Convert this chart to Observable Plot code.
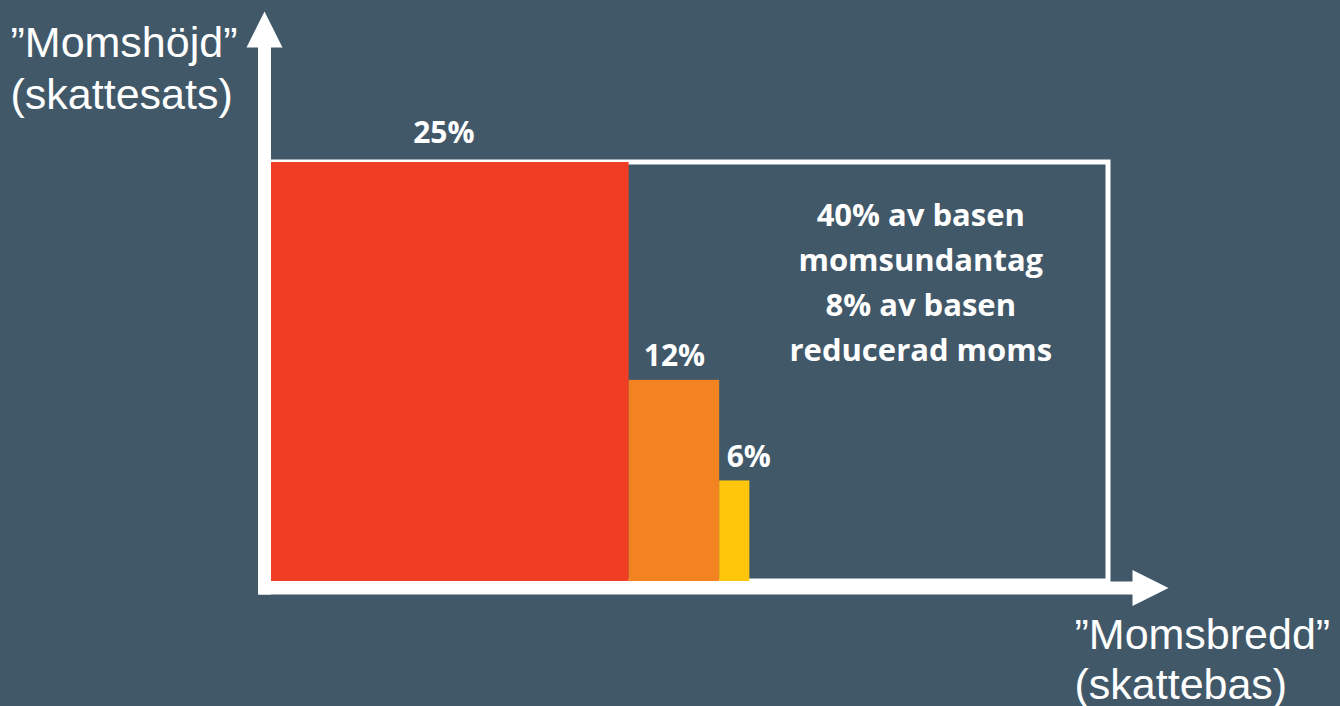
<!DOCTYPE html>
<html>
<head>
<meta charset="utf-8">
<script src="https://cdn.jsdelivr.net/npm/d3@7"></script>
<script src="https://cdn.jsdelivr.net/npm/@observablehq/plot@0.6"></script>
<style>
  html, body { margin: 0; padding: 0; background: #415869; }
  #chart { width: 1340px; height: 706px; }
</style>
</head>
<body>
<div id="chart"></div>
<script>
// ---- data ----
const categories = ["Normalmoms", "Reducerad moms 12%", "Reducerad moms 6%"];
const rates = [25, 12, 6];                 // "Momshöjd" (skattesats, %)
const baseShares = [42.8, 10.8, 3.6];      // "Momsbredd" (andel av skattebasen, %)
const rateLabels = ["25%", "12%", "6%"];
const barColors = ["#ef3e24", "#f38221", "#ffc60b"];
const noteLines = ["40% av basen", "momsundantag", "8% av basen", "reducerad moms"];
const yTitle = ["\u201dMomshöjd\u201d", "(skattesats)"];
const xTitle = ["\u201dMomsbredd\u201d", "(skattebas)"];
const fullBase = 100;
const maxRate = 25;

// build table
let acc = 0;
const bars = categories.map((c, i) => {
  const x1 = acc; acc += baseShares[i];
  return {category: c, x1, x2: acc, rate: rates[i], label: rateLabels[i], color: barColors[i]};
});
const exemptStart = acc;

// filled arrow shape for Plot.vector
const arrowShape = {
  draw(context, l) {
    const hw = 6.5, hh = 18, hl = 36;
    context.moveTo(-hw, 0);
    context.lineTo(-hw, -(l - hl));
    context.lineTo(-hh, -(l - hl));
    context.lineTo(0, -l);
    context.lineTo(hh, -(l - hl));
    context.lineTo(hw, -(l - hl));
    context.lineTo(hw, 0);
    context.closePath();
  }
};

const boldFont = "'Open Sans', sans-serif";
const plainFont = "'Liberation Sans', Arial, sans-serif";
const labelStyle = {fill: "white", fontSize: 30, fontWeight: 700, fontFamily: boldFont, lineAnchor: "bottom"};

const plot = Plot.plot({
  width: 1340,
  height: 706,
  marginLeft: 270,
  marginRight: 232,
  marginTop: 162,
  marginBottom: 125,
  x: {domain: [0, fullBase], axis: null},
  y: {domain: [0, maxRate], axis: null},
  style: {background: "#415869", color: "white", overflow: "visible"},
  marks: [
    // outline of the full base at the standard rate
    Plot.rect([{x1: 0, x2: fullBase, y1: 0, y2: maxRate}], {
      x1: "x1", x2: "x2", y1: "y1", y2: "y2",
      fill: "none", stroke: "white", strokeWidth: 5
    }),
    // bars
    Plot.rect(bars, {x1: "x1", x2: "x2", y1: 0, y2: "rate", fill: "color"}),
    // rate labels
    Plot.text(bars.slice(0, 1), {
      x: d => (d.x1 + d.x2) / 2, y: "rate", text: "label",
      dy: -20, dx: -6, ...labelStyle
    }),
    Plot.text(bars.slice(1, 2), {
      x: d => (d.x1 + d.x2) / 2, y: "rate", text: "label",
      dy: -14, ...labelStyle
    }),
    Plot.text(bars.slice(2), {
      x: d => (d.x1 + d.x2) / 2, y: "rate", text: "label",
      dy: -14, dx: 14, ...labelStyle
    }),
    // annotation in exempt area
    Plot.text([noteLines.join("\n")], {
      x: (exemptStart + fullBase) / 2 - 1, y: 18.05, text: d => d,
      lineAnchor: "middle", lineHeight: 1.45,
      fill: "white", fontSize: 31, fontWeight: 700, fontFamily: boldFont
    }),
    // axes as filled arrows
    Plot.vector([0], {
      x: 0, y: 0, dx: -6, dy: 13, length: 583, rotate: 0, anchor: "start",
      shape: arrowShape, fill: "white", stroke: "none"
    }),
    Plot.vector([0], {
      x: 0, y: 0, dx: -12, dy: 6.5, length: 910, rotate: 90, anchor: "start",
      shape: arrowShape, fill: "white", stroke: "none"
    }),
    // axis titles
    Plot.text([yTitle.join("\n")], {
      frameAnchor: "top-left", text: d => d, textAnchor: "start",
      lineAnchor: "top", dx: -260, dy: -141.5, lineHeight: 1.19,
      fill: "white", fontSize: 43, fontFamily: plainFont
    }),
    Plot.text([xTitle.join("\n")], {
      frameAnchor: "bottom-right", text: d => d, textAnchor: "start",
      lineAnchor: "top", dx: -34, dy: 32.5, lineHeight: 1.15,
      fill: "white", fontSize: 43, fontFamily: plainFont
    })
  ]
});
document.getElementById("chart").append(plot);
</script>
</body>
</html>
